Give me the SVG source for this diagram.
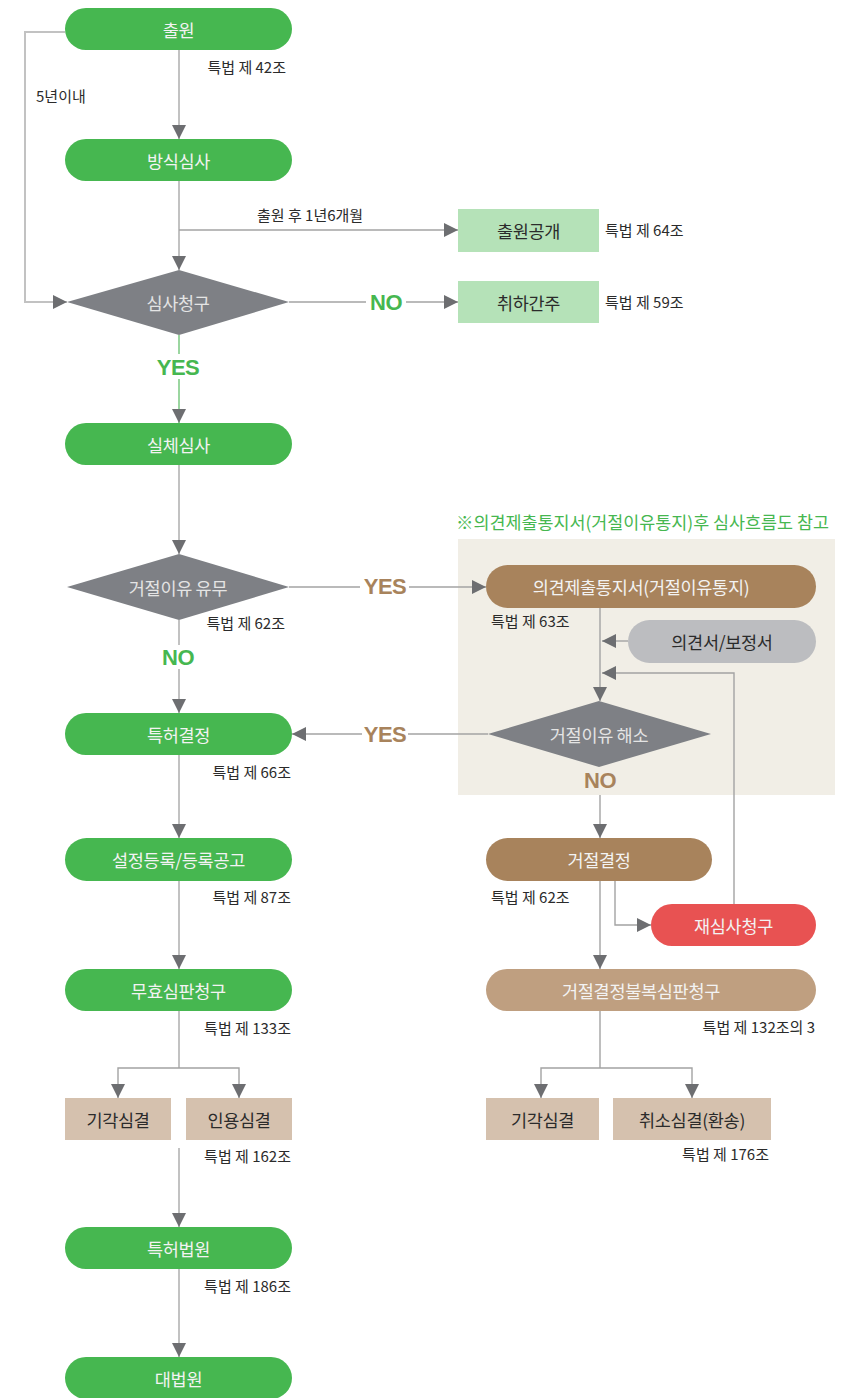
<svg xmlns="http://www.w3.org/2000/svg" width="863" height="1398" viewBox="0 0 863 1398">
  <defs>
    <marker id="arrow" markerUnits="userSpaceOnUse" markerWidth="14" markerHeight="14" refX="14" refY="7" orient="auto">
      <path d="M0,0 L14,7 L0,14 z" fill="#6d6e71"/>
    </marker>
    <style>
      .ko { font-family: "Noto Sans CJK KR", "Noto Sans", sans-serif; }
      .node-label { font-size: 17.5px; text-anchor: middle; dominant-baseline: central; letter-spacing: -0.3px; }
      .light { fill: #f3f3f3; }
      .dark { fill: #2b2b2b; }
      .note { font-size: 15px; fill: #2b2b2b; letter-spacing: 0px; }
      .end { text-anchor: end; }
      .yn { font-family: "Liberation Sans", Arial, sans-serif; font-weight: bold; font-size: 22px; text-anchor: middle; letter-spacing: -0.5px; }
      .yn-green { fill: #46b750; }
      .yn-brown { fill: #a8835c; }
      .spine { stroke: #c2c2c2; stroke-width: 2; fill: none; }
      .link { stroke: #a3a3a3; stroke-width: 1.4; fill: none; }
      .pill-green { fill: #46b750; }
      .pill-brown { fill: #a8835c; }
      .pill-tan { fill: #bf9f80; }
      .pill-gray { fill: #bcbdc0; }
      .pill-red { fill: #e85252; }
      .box-mint { fill: #b5e2b8; }
      .box-tan { fill: #d5c1ae; }
      .decision { fill: #7e8085; }
    </style>
  </defs>

  <!-- shaded panel for the opinion-notice sub-flow -->
  <rect x="458" y="539" width="377" height="256" fill="#f1eee6"/>
  <text class="ko" x="456" y="529" font-size="17.4" fill="#46b750">※의견제출통지서(거절이유통지)후 심사흐름도 참고</text>

  <!-- connectors -->
  <g id="connectors">
    <!-- main column -->
    <path class="spine" d="M179,50 V139" marker-end="url(#arrow)"/>
    <path class="spine" d="M179,181 V270" marker-end="url(#arrow)"/>
    <path class="link" d="M179,230 H458" marker-end="url(#arrow)"/>
    <path class="spine" d="M65,32 H25 V302 H67" marker-end="url(#arrow)"/>
    <path class="link" d="M289,302 H366"/>
    <path class="link" d="M406,302 H458" marker-end="url(#arrow)"/>
    <path d="M179,335 V354" stroke="#9bd6a0" stroke-width="2" fill="none"/>
    <path d="M179,379 V423" stroke="#9bd6a0" stroke-width="2" fill="none" marker-end="url(#arrow)"/>
    <path class="spine" d="M179,465 V554" marker-end="url(#arrow)"/>
    <path class="link" d="M289,587 H360"/>
    <path class="link" d="M409,587 H486" marker-end="url(#arrow)"/>
    <path class="spine" d="M179,620 V645"/>
    <path class="spine" d="M179,669 V713" marker-end="url(#arrow)"/>
    <path class="spine" d="M179,755 V838" marker-end="url(#arrow)"/>
    <path class="spine" d="M179,881 V969" marker-end="url(#arrow)"/>
    <path class="spine" d="M179,1011 V1068"/>
    <path class="link" d="M179,1068 H118 V1098" marker-end="url(#arrow)"/>
    <path class="link" d="M179,1068 H239 V1098" marker-end="url(#arrow)"/>
    <path class="spine" d="M179,1148 V1227" marker-end="url(#arrow)"/>
    <path class="spine" d="M179,1269 V1357" marker-end="url(#arrow)"/>

    <!-- opinion-notice sub-flow -->
    <path class="link" d="M600,608 V701" marker-end="url(#arrow)"/>
    <path class="link" d="M628,641 H602" marker-end="url(#arrow)"/>
    <path class="link" d="M734,904 V673 H602" marker-end="url(#arrow)"/>
    <path class="link" d="M488,734 H408"/>
    <path class="link" d="M362,734 H292" marker-end="url(#arrow)"/>
    <path class="link" d="M600,795 V838" marker-end="url(#arrow)"/>
    <path class="link" d="M615,881 V925 H651" marker-end="url(#arrow)"/>
    <path class="link" d="M600,881 V969" marker-end="url(#arrow)"/>
    <path class="link" d="M600,1011 V1068"/>
    <path class="link" d="M600,1068 H541 V1098" marker-end="url(#arrow)"/>
    <path class="link" d="M600,1068 H692 V1098" marker-end="url(#arrow)"/>

    <!-- branch labels -->
    <text class="yn yn-green" x="386" y="310">NO</text>
    <text class="yn yn-green" x="178" y="375">YES</text>
    <text class="yn yn-brown" x="385" y="594">YES</text>
    <text class="yn yn-green" x="178" y="665">NO</text>
    <text class="yn yn-brown" x="385" y="742">YES</text>
    <text class="yn yn-brown" x="600" y="788">NO</text>

    <!-- annotations -->
    <text class="ko note" x="36" y="102">5년이내</text>
    <text class="ko note end" x="286" y="73">특법 제 42조</text>
    <text class="ko note" x="257" y="221">출원 후 1년6개월</text>
    <text class="ko note" x="605" y="236">특법 제 64조</text>
    <text class="ko note" x="605" y="308">특법 제 59조</text>
    <text class="ko note end" x="285" y="629">특법 제 62조</text>
    <text class="ko note" x="491" y="627">특법 제 63조</text>
    <text class="ko note end" x="291" y="778">특법 제 66조</text>
    <text class="ko note end" x="291" y="903">특법 제 87조</text>
    <text class="ko note end" x="291" y="1034">특법 제 133조</text>
    <text class="ko note end" x="291" y="1162">특법 제 162조</text>
    <text class="ko note end" x="291" y="1292">특법 제 186조</text>
    <text class="ko note" x="491" y="903">특법 제 62조</text>
    <text class="ko note end" x="815" y="1033">특법 제 132조의 3</text>
    <text class="ko note end" x="769" y="1160">특법 제 176조</text>
  </g>

  <!-- nodes: main column -->
  <g id="n-filing">
    <rect class="pill-green" x="65" y="8" width="227" height="42" rx="21"/>
    <text class="ko node-label light" x="178.5" y="29">출원</text>
  </g>
  <g id="n-formal-exam">
    <rect class="pill-green" x="65" y="139" width="227" height="42" rx="21"/>
    <text class="ko node-label light" x="178.5" y="160">방식심사</text>
  </g>
  <g id="n-publication">
    <rect class="box-mint" x="458" y="209" width="141" height="43"/>
    <text class="ko node-label dark" x="528.5" y="230.5">출원공개</text>
  </g>
  <g id="n-exam-request">
    <path class="decision" d="M179,270 L289,302 L179,335 L67,302 z"/>
    <text class="ko node-label" x="178" y="302" fill="#e4e4e4">심사청구</text>
  </g>
  <g id="n-withdrawn">
    <rect class="box-mint" x="458" y="281" width="141" height="42"/>
    <text class="ko node-label dark" x="528.5" y="302">취하간주</text>
  </g>
  <g id="n-substantive-exam">
    <rect class="pill-green" x="65" y="423" width="227" height="42" rx="21"/>
    <text class="ko node-label light" x="178.5" y="444">실체심사</text>
  </g>
  <g id="n-refusal-grounds">
    <path class="decision" d="M179,554 L289,587 L179,620 L67,587 z"/>
    <text class="ko node-label" x="178" y="587" fill="#e4e4e4">거절이유 유무</text>
  </g>
  <g id="n-grant">
    <rect class="pill-green" x="65" y="713" width="227" height="42" rx="21"/>
    <text class="ko node-label light" x="178.5" y="734">특허결정</text>
  </g>
  <g id="n-registration">
    <rect class="pill-green" x="65" y="838" width="227" height="43" rx="21.5"/>
    <text class="ko node-label light" x="178.5" y="859.5">설정등록/등록공고</text>
  </g>
  <g id="n-invalidation">
    <rect class="pill-green" x="65" y="969" width="227" height="42" rx="21"/>
    <text class="ko node-label light" x="178.5" y="990">무효심판청구</text>
  </g>
  <g id="n-dismissed-left">
    <rect class="box-tan" x="65" y="1098" width="106" height="42"/>
    <text class="ko node-label dark" x="118" y="1119">기각심결</text>
  </g>
  <g id="n-upheld">
    <rect class="box-tan" x="186" y="1098" width="106" height="42"/>
    <text class="ko node-label dark" x="239" y="1119">인용심결</text>
  </g>
  <g id="n-patent-court">
    <rect class="pill-green" x="65" y="1227" width="227" height="42" rx="21"/>
    <text class="ko node-label light" x="178.5" y="1248">특허법원</text>
  </g>
  <g id="n-supreme-court">
    <rect class="pill-green" x="65" y="1357" width="227" height="42" rx="21"/>
    <text class="ko node-label light" x="178.5" y="1378">대법원</text>
  </g>

  <!-- nodes: opinion-notice sub-flow -->
  <g id="n-opinion-notice">
    <rect class="pill-brown" x="486" y="565" width="330" height="43" rx="21.5"/>
    <text class="ko node-label light" x="641" y="586.5">의견제출통지서(거절이유통지)</text>
  </g>
  <g id="n-response">
    <rect class="pill-gray" x="628" y="620" width="188" height="43" rx="21.5"/>
    <text class="ko node-label dark" x="722" y="641.5">의견서/보정서</text>
  </g>
  <g id="n-resolved">
    <path class="decision" d="M599,701 L711,734 L599,767 L488,734 z"/>
    <text class="ko node-label" x="599" y="734" fill="#e4e4e4">거절이유 해소</text>
  </g>
  <g id="n-refusal">
    <rect class="pill-brown" x="486" y="838" width="226" height="43" rx="21.5"/>
    <text class="ko node-label light" x="599" y="859.5">거절결정</text>
  </g>
  <g id="n-reexam">
    <rect class="pill-red" x="651" y="904" width="165" height="42" rx="21"/>
    <text class="ko node-label light" x="733.5" y="925">재심사청구</text>
  </g>
  <g id="n-refusal-appeal">
    <rect class="pill-tan" x="486" y="969" width="330" height="42" rx="21"/>
    <text class="ko node-label light" x="641" y="990">거절결정불복심판청구</text>
  </g>
  <g id="n-dismissed-right">
    <rect class="box-tan" x="486" y="1098" width="113" height="42"/>
    <text class="ko node-label dark" x="542.5" y="1119">기각심결</text>
  </g>
  <g id="n-revoked">
    <rect class="box-tan" x="613" y="1098" width="158" height="42"/>
    <text class="ko node-label dark" x="692" y="1119">취소심결(환송)</text>
  </g>
</svg>
